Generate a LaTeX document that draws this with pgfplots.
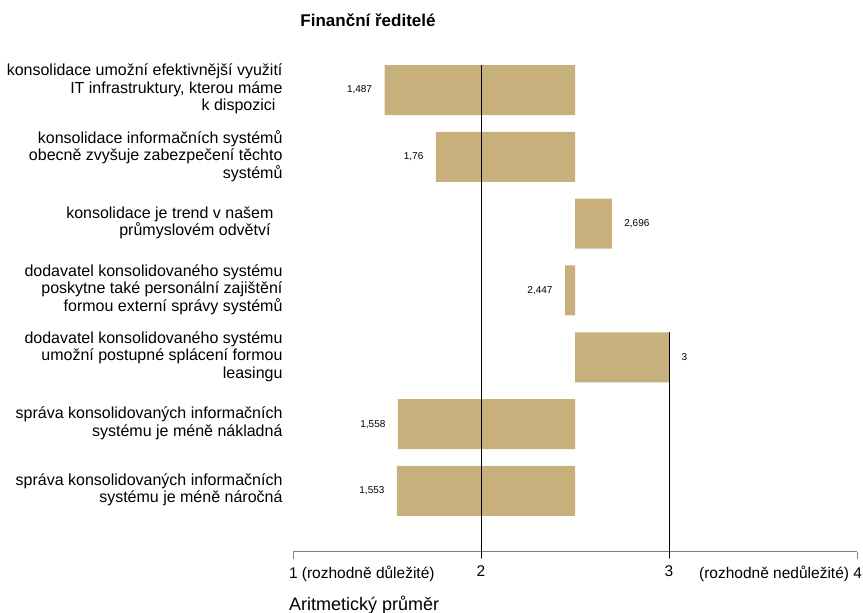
\documentclass[border=0pt]{standalone}
\usepackage{pgfplots}
\usepackage{pgfplotstable}
\usepackage{fontspec}
\setmainfont{Liberation Sans}
\pgfplotsset{compat=1.18}
\definecolor{bartan}{RGB}{200,176,125}
\definecolor{axgray}{RGB}{128,128,128}
\pgfplotstableread{
y x label
7 1.487 1,487
6 1.760 1,76
4 2.447 2,447
2 1.558 1,558
1 1.553 1,553
}\leftbars
\pgfplotstableread{
y x label
5 2.696 2,696
3 3.000 3
}\rightbars
\begin{document}
\begin{tikzpicture}
\useasboundingbox (0,0) rectangle (863bp,613bp);
\begin{axis}[
  at={(293bp,61bp)}, anchor=south west,
  scale only axis, width=564bp, height=495.4bp,
  xmin=1, xmax=4, ymin=0.087, ymax=7.5,
  x coord trafo/.code={\pgfmathparse{#1-2.5}},
  x coord inv trafo/.code={\pgfmathparse{#1+2.5}},
  axis x line*=bottom, axis y line*=left,
  x axis line style={axgray, line width=1bp, -},
  y axis line style={draw=none},
  xtick={1,2,3,4},
  xticklabels={\makebox[0pt][l]{\hspace*{-4bp}1 (rozhodně důležité)},2,3,\makebox[0pt][r]{(rozhodně nedůležité) 4\hspace*{-5bp}}},
  xticklabel style={font=\fontsize{15.5bp}{18bp}\selectfont, yshift=-3bp},
  xtick style={axgray, line width=1bp},
  tick align=outside, major tick length=7bp,
  ytick={1,2,3,4,5,6,7},
  yticklabels={
    {správa konsolidovaných informačních\\systému je méně náročná},
    {správa konsolidovaných informačních\\systému je méně nákladná},
    {dodavatel konsolidovaného systému\\umožní postupné splácení formou\\leasingu},
    {dodavatel konsolidovaného systému\\poskytne také personální zajištění\\formou externí správy systémů},
    {konsolidace je trend v našem\hspace*{9bp}\\průmyslovém odvětví\hspace*{12bp}},
    {konsolidace informačních systémů\\obecně zvyšuje zabezpečení těchto\\systémů},
    {konsolidace umožní efektivnější využití\\IT infrastruktury, kterou máme\\k dispozici\hspace*{7bp}}
  },
  yticklabel style={align=right, font=\fontsize{16bp}{17.5bp}\selectfont, yshift=1bp},
  ytick style={draw=none},
  clip=false,
]
\addplot [xbar, bar width=50bp, bar shift=0pt, fill=bartan, draw=none,
  point meta=explicit symbolic, nodes near coords, nodes near coords align={left},
  every node near coord/.append style={xshift=-9bp, font=\fontsize{10bp}{12bp}\selectfont, black}]
  table [x=x, y=y, meta=label] {\leftbars};
\addplot [xbar, bar width=50bp, bar shift=0pt, fill=bartan, draw=none,
  point meta=explicit symbolic, nodes near coords, nodes near coords align={right},
  every node near coord/.append style={xshift=9bp, font=\fontsize{10bp}{12bp}\selectfont, black}]
  table [x=x, y=y, meta=label] {\rightbars};
\addplot [black, line width=0.9bp, mark=none] coordinates {(2,7.374) (2,0.0)};
\addplot [black, line width=0.9bp, mark=none] coordinates {(3,3.374) (3,0.0)};
\end{axis}
\node[font=\bfseries\fontsize{17bp}{20bp}\selectfont] at (368bp,593bp) {Finanční ředitelé};
\node[anchor=base west, inner sep=0pt, font=\fontsize{18bp}{20bp}\selectfont] at (289bp,3bp) {Aritmetický průměr};
\end{tikzpicture}
\end{document}
